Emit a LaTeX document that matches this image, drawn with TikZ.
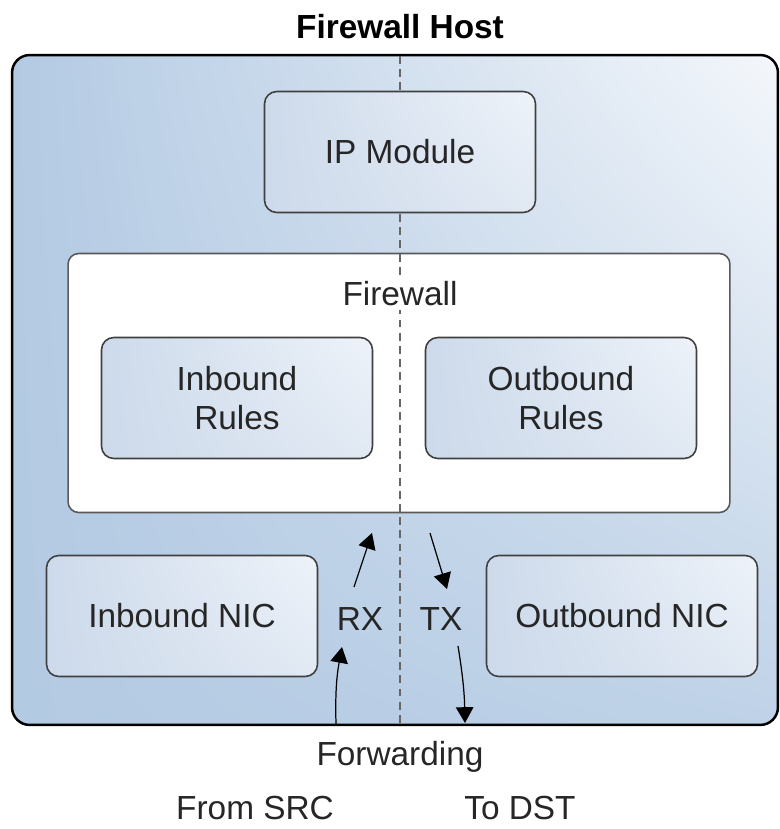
\documentclass[tikz,border=0pt]{standalone}
\usepackage{fontspec}
\setmainfont{Liberation Sans}
\usetikzlibrary{arrows.meta,shadings}
\definecolor{hostblue}{HTML}{B3CAE3}
\definecolor{hostlight}{HTML}{F4F7FB}
\definecolor{boxblue}{HTML}{CDDAEB}
\definecolor{boxlight}{HTML}{EEF3F9}
\definecolor{inkgray}{HTML}{262626}

\begin{document}
\begin{tikzpicture}[x=0.02cm, y=-0.02cm,
    font=\fontsize{19}{22}\selectfont, text=inkgray,
    host/.style ={rectangle, draw=black, line width=1.4pt, rounded corners=10pt,
      upper left=hostblue, lower left=hostblue, upper right=hostlight,
      lower right=hostblue!85!white, minimum width=15.32cm, minimum height=13.4cm},
    fwbox/.style ={rectangle, draw=black!65, line width=0.9pt, fill=white,
      rounded corners=6pt, minimum width=13.24cm, minimum height=5.18cm},
    module/.style ={rectangle, draw=black!75, line width=0.9pt, rounded corners=7pt,
      upper left=boxblue, lower left=boxblue, upper right=boxlight,
      lower right=boxblue!60!white, minimum width=5.42cm, minimum height=2.42cm,
      align=center},
    label/.style ={inner sep=2pt, align=center},
    divider/.style ={draw=black!60, line width=1.2pt, dash pattern=on 4.5pt off 3pt},
    line/.style ={draw, black, line width=0.7pt, -{Triangle[length=9pt,width=10pt]}}]

    \useasboundingbox (0,0) rectangle (780,829);

    % Place nodes
    \node [font=\fontsize{19}{22}\selectfont\bfseries, text=black] (title) at (400,27) {Firewall Host};
    \node [host] (fwhost) at (395,390) {};
    \node [fwbox] (firewall) at (399,383) {};

    % the split between receive and transmit side
    \coordinate (splittop) at (400,56);
    \coordinate (splitbot) at (400,724);
    \path [divider] (splittop) -- (splitbot);

    \node [module] (ipmod) at (400,152) {IP Module};
    \node [label, fill=white] (fwlabel) at (400,294) {Firewall};
    \node [module] (inrules) at (237,398) {Inbound\\Rules};
    \node [module] (outrules) at (561,398) {Outbound\\Rules};
    \node [module] (innic) at (182,616) {Inbound NIC};
    \node [module] (outnic) at (622,616) {Outbound NIC};
    \node [label] (rx) at (360,619) {RX};
    \node [label] (tx) at (441,619) {TX};
    \node [label] (fwd) at (400,757) {Forwarding};
    \node [label] (fromsrc) at (255,808) {From SRC};
    \node [label] (todst) at (520,808) {To DST};

    % arrow ends
    \coordinate (rxin) at (336,724);
    \coordinate (rxup) at (342,647);
    \coordinate (rxfrom) at (354,587);
    \coordinate (rxto) at (372,533);
    \coordinate (txfrom) at (430,533);
    \coordinate (txto) at (447,589);
    \coordinate (txdown) at (458,646);
    \coordinate (txout) at (465,723);

    \begin{scope}[every path/.style=line]
    % receive side
    \path (rxin) to[bend left=6] (rxup);
    \path (rxfrom) -- (rxto);
    % transmit side
    \path (txfrom) -- (txto);
    \path (txdown) to[bend left=4] (txout);
    \end{scope}

\end{tikzpicture}
\end{document}
